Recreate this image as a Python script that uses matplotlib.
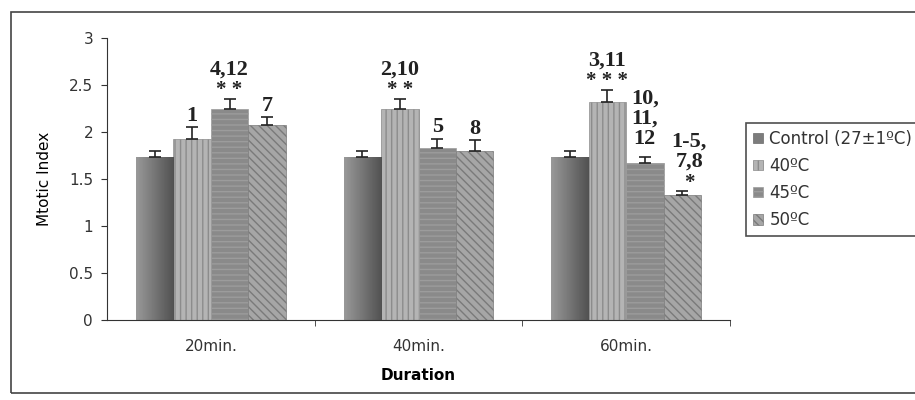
import matplotlib.pyplot as plt
import numpy as np
from matplotlib.patches import Rectangle

plt.rcParams['font.family'] = ['DejaVu Sans']
plt.rcParams['text.color'] = '#333333'
plt.rcParams['xtick.color'] = '#333333'
plt.rcParams['ytick.color'] = '#333333'

# data
durations = ["20min.", "40min.", "60min."]
series = ["Control (27±1ºC)", "40ºC", "45ºC", "50ºC"]
control = [1.73, 1.73, 1.73]
t40 = [1.93, 2.24, 2.32]
t45 = [2.24, 1.83, 1.67]
t50 = [2.07, 1.80, 1.33]
err_control = [0.07, 0.07, 0.07]
err_40 = [0.12, 0.11, 0.13]
err_45 = [0.11, 0.10, 0.06]
err_50 = [0.09, 0.11, 0.04]

# significance labels above each bar (numbers, stars)
labels_40 = ["1", "2,10", "3,11"]
stars_40 = ["", "* *", "* * *"]
labels_45 = ["4,12", "5", "10,\n11,\n12"]
stars_45 = ["* *", "", ""]
labels_50 = ["7", "8", "1-5,\n7,8"]
stars_50 = ["", "", "*"]

values = [control, t40, t45, t50]
errors = [err_control, err_40, err_45, err_50]
labels = [None, labels_40, labels_45, labels_50]
stars = [None, stars_40, stars_45, stars_50]

faces = ["#7c7c7c", "#b4b4b4", "#8a8a8a", "#a6a6a6"]
edges = ["#6a6a6a", "#8c8c8c", "#9c9c9c", "#7a7a7a"]
hatches = [None, "|||", "---", "\\\\\\\\"]

fig = plt.figure(figsize=(9.15, 4.0), dpi=100)
fig.patches.append(Rectangle((11 / 915, 7 / 400), 1.0, 381 / 400, transform=fig.transFigure,
                             fill=False, edgecolor="#444444", linewidth=1.2))
ax = fig.add_axes([107 / 915, 80 / 400, 623 / 915, 282 / 400])

grad = np.linspace(0.6, 0.32, 64).reshape(1, -1)

x = np.arange(len(durations))
w = 0.18
for i in range(4):
    pos = x + (i - 1.5) * w
    bars = ax.bar(pos, values[i], w, color=faces[i], edgecolor=edges[i], hatch=hatches[i],
                  linewidth=0.5, label=series[i], zorder=2)
    if i == 0:
        # shaded look of the control bars
        for b in bars:
            ax.imshow(grad, extent=[b.get_x(), b.get_x() + b.get_width(), 0, b.get_height()],
                      cmap="gray", vmin=0, vmax=1, aspect="auto", zorder=2.1)
    ax.errorbar(pos, values[i], yerr=[np.zeros(3), errors[i]], fmt="none", ecolor="#222222",
                elinewidth=1.2, capsize=4, capthick=1.2, zorder=3)
    if labels[i] is None:
        continue
    for j in range(3):
        top = values[i][j] + errors[i][j]
        off = 6 if "\n" in labels[i][j] else 1
        dx = 5 if i == 3 and j == 2 else 0
        if stars[i][j]:
            ax.annotate(stars[i][j], (pos[j], top), xytext=(dx, -1), textcoords="offset points",
                        ha="center", va="bottom", fontsize=15, fontweight="bold",
                        family="Liberation Serif", color="#222222")
            off = 14
        ax.annotate(labels[i][j], (pos[j], top), xytext=(dx, off),
                    textcoords="offset points", ha="center", va="bottom", fontsize=16,
                    fontweight="bold", family="Liberation Serif", linespacing=1.0,
                    color="#222222")

ax.set_xlim(-0.5, 2.5)
ax.set_ylim(0, 3)
ax.set_yticks([0, 0.5, 1, 1.5, 2, 2.5, 3])
ax.set_yticklabels(["0", "0.5", "1", "1.5", "2", "2.5", "3"])
ax.set_xticks(x)
ax.set_xticklabels(durations)
ax.set_xticks([0.5, 1.5, 2.5], minor=True)
ax.tick_params(axis="x", which="major", length=0, pad=14, labelsize=11)
ax.tick_params(axis="x", which="minor", length=4, direction="out")
ax.tick_params(axis="y", length=4, labelsize=11, pad=6)
ax.spines["top"].set_visible(False)
ax.spines["right"].set_visible(False)
ax.spines["left"].set_color("#333333")
ax.spines["bottom"].set_color("#333333")
ax.set_xlabel("Duration", fontsize=11, fontweight="bold", labelpad=10)
ax.set_ylabel("Mtotic Index", fontsize=11, labelpad=12)

leg = fig.legend(loc="upper left", bbox_to_anchor=(746 / 915, 1 - 123 / 400), fontsize=12,
                 frameon=True, fancybox=False, edgecolor="#222222", handlelength=0.6,
                 handleheight=0.6, handletextpad=0.4, labelspacing=0.55, borderpad=0.4,
                 borderaxespad=0)
leg.get_frame().set_linewidth(1.2)

fig.savefig("out.png", dpi=100)
